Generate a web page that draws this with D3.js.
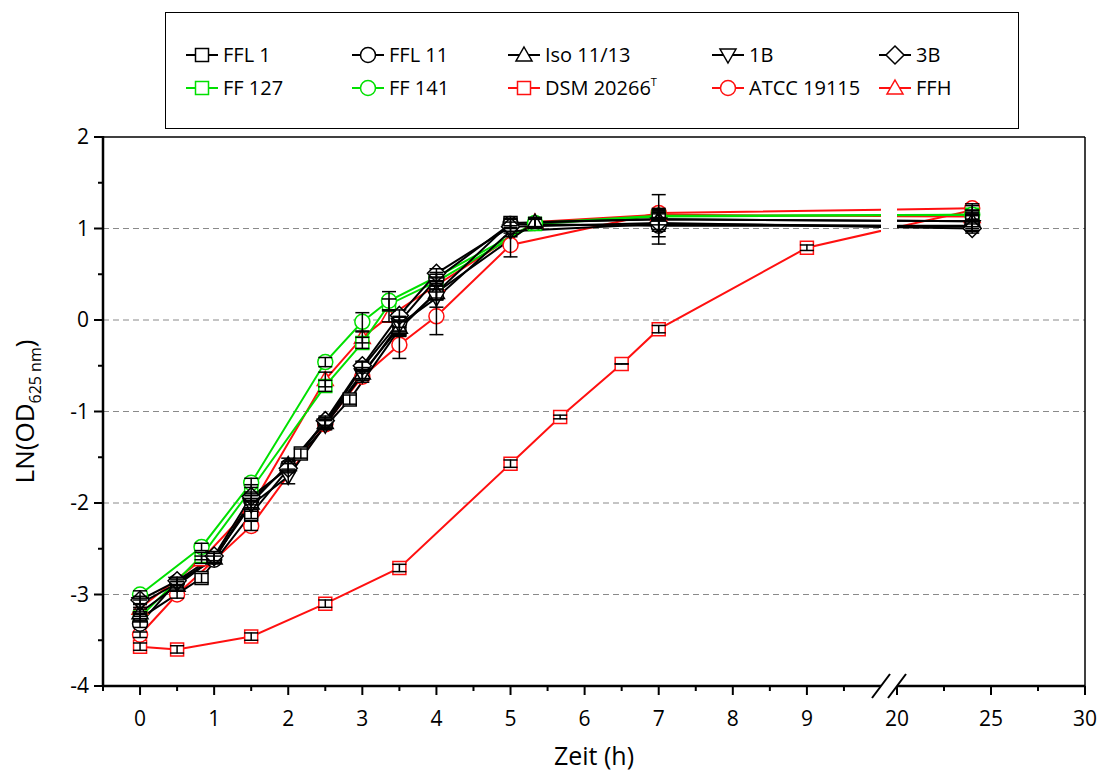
<!DOCTYPE html>
<html>
<head>
<meta charset="utf-8">
<script src="https://cdn.jsdelivr.net/npm/d3@7/dist/d3.min.js"></script>
<style>
	body { margin: 0; background: #fff; }
	svg { display: block; }
	text { font-family: "Open Sans", "Noto Sans", sans-serif; fill: #000; }
</style>
</head>
<body>
<div id="chart"></div>
<script>
"use strict";

// growth curves, LN(OD625) over time

var seriesNames  = ["FFL 1", "FFL 11", "Iso 11/13", "1B", "3B", "FF 127", "FF 141", "DSM 20266", "ATCC 19115", "FFH"];
var seriesColors = ["#000", "#000", "#000", "#000", "#000", "#00e000", "#00e000", "#ff1010", "#ff1010", "#ff1010"];
var seriesShapes = ["square", "circle", "triUp", "triDown", "diamond", "square", "circle", "square", "circle", "triUp"];

var timesFFL1  = [0, 0.83, 1.5, 2.17, 2.83, 3.5, 4, 5, 7, 24];
var valuesFFL1 = [-3.26, -2.82, -2.12, -1.46, -0.87, -0.1, 0.3, 1.06, 1.1, 1.08];
var errorsFFL1 = [0.04, 0.05, 0.05, 0.05, 0.05, 0.08, 0.08, 0.05, 0.27, 0.08];

var timesFFL11  = [0, 0.5, 1, 1.5, 2, 2.5, 3, 3.5, 4, 5, 7, 24];
var valuesFFL11 = [-3.32, -2.86, -2.62, -1.97, -1.6, -1.12, -0.52, -0.02, 0.45, 1.05, 1.03, 1.03];
var errorsFFL11 = [0.04, 0.04, 0.04, 0.05, 0.05, 0.05, 0.06, 0.06, 0.05, 0.05, 0.06, 0.05];

var timesIso  = [0, 0.5, 1, 1.5, 2, 2.5, 3, 3.5, 4, 5.33, 7, 24];
var valuesIso = [-3.2, -2.9, -2.6, -2.0, -1.58, -1.12, -0.58, -0.08, 0.3, 1.07, 1.1, 1.08];
var errorsIso  = [0.04, 0.04, 0.05, 0.05, 0.07, 0.05, 0.06, 0.08, 0.08, 0.05, 0.06, 0.06];

var times1B  = [0, 0.5, 1, 1.5, 2, 2.5, 3, 3.5, 4, 5, 7, 24];
var values1B = [-3.1, -2.88, -2.6, -2.02, -1.71, -1.15, -0.6, -0.05, 0.24, 0.97, 1.05, 1.02];
var errors1B = [0.04, 0.04, 0.05, 0.05, 0.08, 0.05, 0.06, 0.08, 0.1, 0.06, 0.06, 0.05];

var times3B  = [0, 0.5, 1, 1.5, 2, 2.5, 3, 3.5, 4, 5, 7, 24];
var values3B = [-3.06, -2.85, -2.58, -1.93, -1.62, -1.1, -0.5, 0.05, 0.51, 1.02, 1.06, 1.0];
var errors3B = [0.04, 0.04, 0.05, 0.05, 0.05, 0.05, 0.05, 0.06, 0.05, 0.05, 0.15, 0.05];

var timesFF127  = [0, 0.83, 1.5, 2.5, 3, 3.36, 4, 5.33, 7, 24];
var valuesFF127 = [-3.25, -2.58, -1.85, -0.72, -0.25, 0.17, 0.42, 1.05, 1.13, 1.15];
var errorsFF127 = [0.04, 0.04, 0.05, 0.06, 0.06, 0.06, 0.05, 0.05, 0.05, 0.05];

var timesFF141  = [0, 0.83, 1.5, 2.5, 3, 3.36, 4, 5.33, 7, 24];
var valuesFF141 = [-3.0, -2.48, -1.78, -0.46, -0.02, 0.21, 0.47, 1.06, 1.14, 1.15];
var errorsFF141 = [0.04, 0.04, 0.05, 0.05, 0.1, 0.1, 0.05, 0.05, 0.05, 0.05];

var timesDSM  = [0, 0.5, 1.5, 2.5, 3.5, 5, 5.67, 6.5, 7, 9, 24];
var valuesDSM = [-3.57, -3.6, -3.46, -3.1, -2.71, -1.57, -1.06, -0.48, -0.1, 0.79, 1.2];
var errorsDSM = [0.04, 0.04, 0.04, 0.04, 0.04, 0.04, 0.02, 0.0, 0.04, 0.03, 0.05];

var timesATCC  = [0, 0.5, 1.5, 2.5, 3, 3.5, 4, 5, 7, 24];
var valuesATCC = [-3.44, -3.0, -2.25, -1.14, -0.62, -0.27, 0.04, 0.82, 1.17, 1.22];
var errorsATCC = [0.03, 0.04, 0.05, 0.05, 0.06, 0.15, 0.2, 0.13, 0.05, 0.05];

var timesFFH  = [0, 0.83, 1.5, 2.5, 3, 3.36, 4, 5.33, 7, 24];
var valuesFFH = [-3.15, -2.62, -2.04, -0.65, -0.19, 0.04, 0.38, 1.07, 1.15, 1.13];
var errorsFFH = [0.04, 0.04, 0.05, 0.08, 0.06, 0.06, 0.05, 0.05, 0.05, 0.05];

var seriesTimes  = [timesFFL1, timesFFL11, timesIso, times1B, times3B, timesFF127, timesFF141, timesDSM, timesATCC, timesFFH];
var seriesValues = [valuesFFL1, valuesFFL11, valuesIso, values1B, values3B, valuesFF127, valuesFF141, valuesDSM, valuesATCC, valuesFFH];
var seriesErrors = [errorsFFL1, errorsFFL11, errorsIso, errors1B, errors3B, errorsFF127, errorsFF141, errorsDSM, errorsATCC, errorsFFH];

var xMajorTicks = [0, 1, 2, 3, 4, 5, 6, 7, 8, 9, 20, 25, 30];
var xMinorTicks = [-0.5, 0.5, 1.5, 2.5, 3.5, 4.5, 5.5, 6.5, 7.5, 8.5, 9.5, 22.5, 27.5];
var yMajorTicks = [-4, -3, -2, -1, 0, 1, 2];
var yGridLines  = [-3, -2, -1, 0, 1];

var width = 1103, height = 776;
var plotL = 103, plotR = 1085, plotT = 137, plotB = 686;
var breakL = 881, breakR = 897;

// broken axis: 0..10 h on the left part, 20..30 h on the right part
var x = d3.scaleLinear().domain([-0.5, 10, 20, 30]).range([plotL, breakL, breakR, plotR]);
var y = d3.scaleLinear().domain([-4, 2]).range([plotB, plotT]);

var svg = d3.select("#chart").append("svg")
	.attr("width", width)
	.attr("height", height);

svg.append("rect").attr("width", width).attr("height", height).attr("fill", "#fff");

var defs = svg.append("defs");
defs.append("clipPath").attr("id", "seg1").append("rect")
	.attr("x", plotL).attr("y", 0).attr("width", breakL - plotL).attr("height", height);
defs.append("clipPath").attr("id", "seg2").append("rect")
	.attr("x", breakR).attr("y", 0).attr("width", plotR - breakR + 10).attr("height", height);

// grid
svg.append("g").selectAll("line").data(yGridLines).join("line")
	.attr("x1", plotL).attr("x2", plotR)
	.attr("y1", d => y(d)).attr("y2", d => y(d))
	.attr("stroke", "#8a8a8a").attr("stroke-width", 1).attr("stroke-dasharray", "6,4");

function symbolPath(shape) {
	if (shape === "square") return "M-6.5,-6.5H6.5V6.5H-6.5Z";
	if (shape === "circle") return "M7.5,0A7.5,7.5 0 1,1 -7.5,0A7.5,7.5 0 1,1 7.5,0Z";
	if (shape === "triUp") return "M0,-8L8,6H-8Z";
	if (shape === "triDown") return "M0,8L8,-6H-8Z";
	if (shape === "diamond") return "M0,-9L9,0L0,9L-9,0Z";
	return "";
}

var series = seriesNames.map(function(name, i) {
	return {
		name: name,
		color: seriesColors[i],
		shape: seriesShapes[i],
		points: seriesTimes[i].map(function(t, j) {
			return {t: t, v: seriesValues[i][j], e: seriesErrors[i][j]};
		})
	};
});

var line = d3.line().x(d => x(d.t)).y(d => y(d.v));

["seg1", "seg2"].forEach(function(clip) {
	var g = svg.append("g").attr("clip-path", "url(#" + clip + ")");

	// draw black series last so the order is a bit like the original
	var order = [7, 8, 9, 5, 6, 0, 1, 2, 3, 4];
	order.forEach(function(i) {
		var s = series[i];
		g.append("path")
			.attr("d", line(s.points))
			.attr("fill", "none")
			.attr("stroke", s.color)
			.attr("stroke-width", 2);
	});
	order.forEach(function(i) {
		var s = series[i];
		g.append("g").selectAll("path").data(s.points).join("path")
			.attr("transform", d => "translate(" + x(d.t) + "," + y(d.v) + ")")
			.attr("d", symbolPath(s.shape))
			.attr("fill", "#fff")
			.attr("stroke", s.color)
			.attr("stroke-width", 1.5);
	});
	order.forEach(function(i) {
		var s = series[i];
		var eb = g.append("g").attr("stroke", "#000").attr("stroke-width", 1.5);
		s.points.forEach(function(d) {
			var cx = x(d.t);
			var y1 = y(d.v + d.e), y2 = y(d.v - d.e);
			eb.append("line").attr("x1", cx).attr("x2", cx).attr("y1", y1 - 0.5).attr("y2", y2 + 0.5);
			eb.append("line").attr("x1", cx - 7).attr("x2", cx + 7).attr("y1", y1).attr("y2", y1);
			eb.append("line").attr("x1", cx - 7).attr("x2", cx + 7).attr("y1", y2).attr("y2", y2);
		});
	});
});

// frame
svg.append("line").attr("x1", plotL).attr("x2", plotR).attr("y1", plotT).attr("y2", plotT)
	.attr("stroke", "#000").attr("stroke-width", 1.5);
svg.append("line").attr("x1", plotR).attr("x2", plotR).attr("y1", plotT).attr("y2", plotB)
	.attr("stroke", "#000").attr("stroke-width", 1.5);

// y axis
var yAxis = svg.append("g");
yAxis.append("line").attr("x1", plotL).attr("x2", plotL).attr("y1", plotT - 1).attr("y2", plotB + 1)
	.attr("stroke", "#000").attr("stroke-width", 2.5);
yAxis.selectAll(".maj").data(yMajorTicks).join("line")
	.attr("x1", plotL - 9).attr("x2", plotL)
	.attr("y1", d => y(d)).attr("y2", d => y(d))
	.attr("stroke", "#000").attr("stroke-width", 2);
yAxis.selectAll(".min").data(yMajorTicks.slice(0, -1)).join("line")
	.attr("x1", plotL - 5).attr("x2", plotL)
	.attr("y1", d => y(d + 0.5)).attr("y2", d => y(d + 0.5))
	.attr("stroke", "#000").attr("stroke-width", 2);
yAxis.selectAll("text").data(yMajorTicks).join("text")
	.attr("x", plotL - 14).attr("y", d => y(d) + 7)
	.attr("text-anchor", "end")
	.style("font-size", "21px")
	.text(d => d);

// x axis with the break
var xAxis = svg.append("g");
xAxis.append("line").attr("x1", plotL - 1).attr("x2", breakL).attr("y1", plotB).attr("y2", plotB)
	.attr("stroke", "#000").attr("stroke-width", 2.5);
xAxis.append("line").attr("x1", breakR).attr("x2", plotR).attr("y1", plotB).attr("y2", plotB)
	.attr("stroke", "#000").attr("stroke-width", 2.5);
xAxis.selectAll(".maj").data(xMajorTicks).join("line")
	.attr("x1", d => x(d)).attr("x2", d => x(d))
	.attr("y1", plotB).attr("y2", plotB + 9)
	.attr("stroke", "#000").attr("stroke-width", 2);
xAxis.selectAll(".min").data(xMinorTicks).join("line")
	.attr("x1", d => x(d)).attr("x2", d => x(d))
	.attr("y1", plotB).attr("y2", plotB + 5)
	.attr("stroke", "#000").attr("stroke-width", 2);
xAxis.selectAll("text").data(xMajorTicks).join("text")
	.attr("x", d => x(d)).attr("y", plotB + 40)
	.attr("text-anchor", "middle")
	.style("font-size", "21px")
	.text(d => d);
[breakL, breakR].forEach(function(bx) {
	xAxis.append("line")
		.attr("x1", bx - 9).attr("y1", plotB + 12)
		.attr("x2", bx + 9).attr("y2", plotB - 12)
		.attr("stroke", "#000").attr("stroke-width", 2);
});

// axis titles
svg.append("text")
	.attr("x", (plotL + plotR) / 2).attr("y", 765)
	.attr("text-anchor", "middle")
	.style("font-size", "25px")
	.text("Zeit (h)");

var yTitle = svg.append("text")
	.attr("transform", "translate(34," + ((plotT + plotB) / 2) + ") rotate(-90)")
	.attr("text-anchor", "middle")
	.style("font-size", "26px");
yTitle.append("tspan").text("LN(OD");
yTitle.append("tspan").attr("dy", 7).style("font-size", "16px").text("625 nm");
yTitle.append("tspan").attr("dy", -7).text(")");

// legend
var legendCols = [186, 352, 508, 712, 879];
var legendRows = [55, 88];
svg.append("rect")
	.attr("x", 165.5).attr("y", 12.5).attr("width", 853).attr("height", 116)
	.attr("fill", "#fff").attr("stroke", "#000").attr("stroke-width", 1);

series.forEach(function(s, i) {
	var lx = legendCols[i % 5], ly = legendRows[Math.floor(i / 5)];
	var g = svg.append("g").attr("transform", "translate(" + lx + "," + ly + ")");
	g.append("line").attr("x1", 0).attr("x2", 32).attr("y1", 0).attr("y2", 0)
		.attr("stroke", s.color).attr("stroke-width", 2);
	g.append("path").attr("transform", "translate(16,0)")
		.attr("d", symbolPath(s.shape))
		.attr("fill", "#fff").attr("stroke", s.color).attr("stroke-width", 1.5);
	var t = g.append("text").attr("x", 37).attr("y", 7).style("font-size", "20px").text(s.name);
	if (i === 7) {
		t.append("tspan").attr("dy", -9).style("font-size", "11px").text("T");
	}
});
</script>
</body>
</html>
